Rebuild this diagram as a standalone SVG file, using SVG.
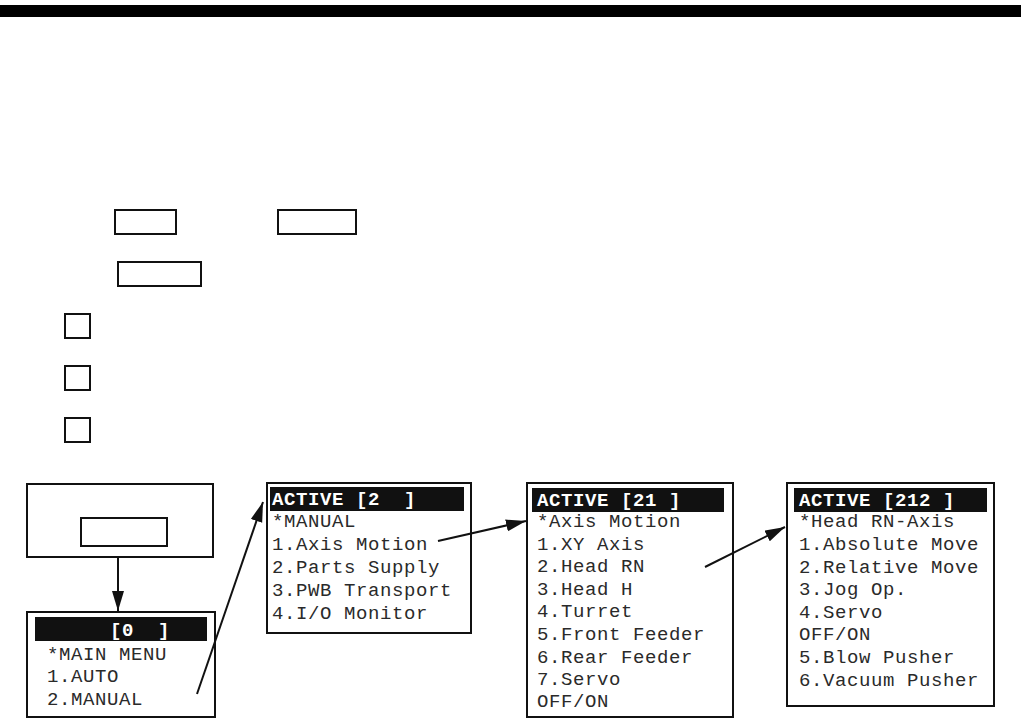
<svg xmlns="http://www.w3.org/2000/svg" width="1021" height="721" viewBox="0 0 1021 721">
<defs>
<style>
.box{fill:#fff;stroke:#111;stroke-width:2}
.key{fill:#fff;stroke:#111;stroke-width:2}
.hdr{fill:#111}
.t{font-family:"Liberation Mono","DejaVu Sans Mono",monospace;font-size:19px;letter-spacing:0.6px;fill:#2a2a2a}
.h{font-family:"Liberation Mono","DejaVu Sans Mono",monospace;font-size:19px;letter-spacing:0.6px;font-weight:bold;fill:#fff;white-space:pre}
.c{stroke:#111;stroke-width:2;fill:none;marker-end:url(#ah)}
</style>
<marker id="ah" markerUnits="userSpaceOnUse" markerWidth="22" markerHeight="14" refX="20" refY="6" orient="auto" viewBox="0 0 22 14">
<path d="M0,0 L20,6 L0,12 z" fill="#111"/>
</marker>
</defs>
<rect x="0" y="5" width="1021" height="12" fill="#000"/>
<g id="keys">
<rect class="key" x="115" y="210" width="61" height="24"/>
<rect class="key" x="278" y="210" width="78" height="24"/>
<rect class="key" x="118" y="262" width="83" height="24"/>
<rect class="key" x="65" y="314" width="25" height="24"/>
<rect class="key" x="65" y="366" width="25" height="24"/>
<rect class="key" x="65" y="418" width="25" height="24"/>
</g>
<g id="start">
<rect class="box" x="27" y="484" width="186" height="73"/>
<rect class="box" x="81" y="518" width="86" height="28" stroke-width="1.5"/>
</g>
<g id="menu0">
<rect class="box" x="27" y="612" width="188" height="105"/>
<rect class="hdr" x="35" y="617" width="172" height="24"/>
<text class="h" x="110" y="636" xml:space="preserve">[0  ]</text>
<text class="t" x="47" y="660">*MAIN MENU</text>
<text class="t" x="47" y="682">1.AUTO</text>
<text class="t" x="47" y="705">2.MANUAL</text>
</g>
<g id="menu2">
<rect class="box" x="267" y="483" width="204" height="150"/>
<rect class="hdr" x="270" y="487" width="194" height="24"/>
<text class="h" x="272" y="505" xml:space="preserve">ACTIVE [2  ]</text>
<text class="t" x="272" y="527">*MANUAL</text>
<text class="t" x="272" y="550">1.Axis Motion</text>
<text class="t" x="272" y="573">2.Parts Supply</text>
<text class="t" x="272" y="596">3.PWB Transport</text>
<text class="t" x="272" y="619">4.I/O Monitor</text>
</g>
<g id="menu21">
<rect class="box" x="527" y="483" width="206" height="234"/>
<rect class="hdr" x="532" y="488" width="192" height="24"/>
<text class="h" x="537" y="506" xml:space="preserve">ACTIVE [21 ]</text>
<text class="t" x="537" y="527">*Axis Motion</text>
<text class="t" x="537" y="550">1.XY Axis</text>
<text class="t" x="537" y="572">2.Head RN</text>
<text class="t" x="537" y="595">3.Head H</text>
<text class="t" x="537" y="617">4.Turret</text>
<text class="t" x="537" y="640">5.Front Feeder</text>
<text class="t" x="537" y="663">6.Rear Feeder</text>
<text class="t" x="537" y="685">7.Servo</text>
<text class="t" x="537" y="707">OFF/ON</text>
</g>
<g id="menu212">
<rect class="box" x="787" y="483" width="207" height="223"/>
<rect class="hdr" x="794" y="488" width="193" height="24"/>
<text class="h" x="799" y="506" xml:space="preserve">ACTIVE [212 ]</text>
<text class="t" x="799" y="527">*Head RN-Axis</text>
<text class="t" x="799" y="550">1.Absolute Move</text>
<text class="t" x="799" y="573">2.Relative Move</text>
<text class="t" x="799" y="595">3.Jog Op.</text>
<text class="t" x="799" y="618">4.Servo</text>
<text class="t" x="799" y="640">OFF/ON</text>
<text class="t" x="799" y="663">5.Blow Pusher</text>
<text class="t" x="799" y="686">6.Vacuum Pusher</text>
</g>
<g id="connectors">
<line class="c" x1="118" y1="557" x2="118" y2="611"/>
<line class="c" x1="197" y1="694" x2="263" y2="502"/>
<line class="c" x1="438" y1="541" x2="526" y2="521"/>
<line class="c" x1="705" y1="567" x2="785" y2="527"/>
</g>
</svg>
